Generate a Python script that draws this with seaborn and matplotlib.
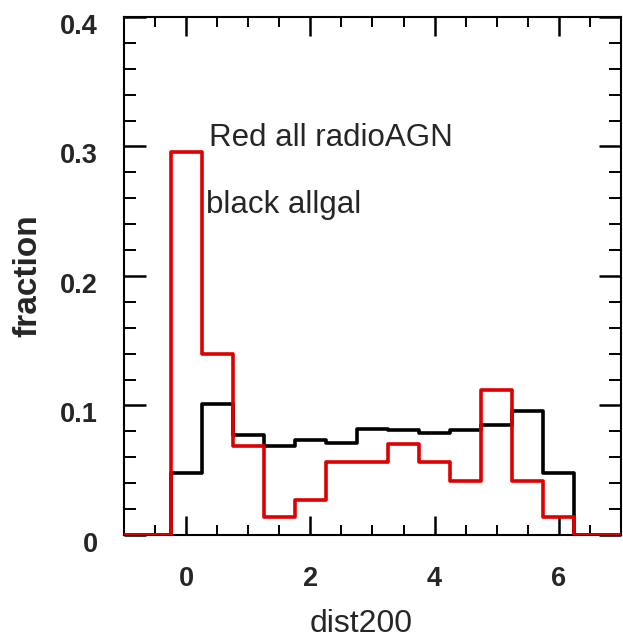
import numpy as np
import pandas as pd
import seaborn as sns
import matplotlib
matplotlib.use("Agg")
import matplotlib.pyplot as plt
from matplotlib.ticker import MultipleLocator, FixedLocator, FixedFormatter
from matplotlib.transforms import ScaledTranslation

# dist200 bin centres (bin width 0.5)
bin_centers = [-1.0, -0.5, 0.0, 0.5, 1.0, 1.5, 2.0, 2.5, 3.0, 3.5, 4.0,
               4.5, 5.0, 5.5, 6.0, 6.5, 7.0]
# fraction per bin: all galaxies
frac_allgal = [0.0, 0.0, 0.048, 0.101, 0.077, 0.069, 0.073, 0.071, 0.082,
               0.081, 0.079, 0.081, 0.085, 0.096, 0.048, 0.0, 0.0]
# fraction per bin: all radio AGN
frac_radioagn = [0.0, 0.0, 0.296, 0.140, 0.069, 0.014, 0.027, 0.056, 0.056,
                 0.070, 0.056, 0.042, 0.112, 0.042, 0.014, 0.0, 0.0]

x_ticks = [0, 2, 4, 6]
x_ticklabels = ["0", "2", "4", "6"]
y_ticks = [0.0, 0.1, 0.2, 0.3, 0.4]
y_ticklabels = ["0", "0.1", "0.2", "0.3", "0.4"]

bin_width = 0.5
edges = [c - bin_width / 2 for c in bin_centers] + [bin_centers[-1] + bin_width / 2]

df = pd.concat([
    pd.DataFrame({"dist200": bin_centers, "fraction": frac_allgal, "sample": "allgal"}),
    pd.DataFrame({"dist200": bin_centers, "fraction": frac_radioagn, "sample": "radioAGN"}),
], ignore_index=True)

sns.set_style("ticks")
plt.rcParams["font.family"] = ["Liberation Sans", "DejaVu Sans"]

fig = plt.figure(figsize=(6.23, 6.39), dpi=100)
ax = fig.add_axes([0.199, 0.1628, 0.7978, 0.8106])

# histogram outlines drawn above the frame so the zero level shows in red
sns.histplot(data=df[df["sample"] == "allgal"], x="dist200", weights="fraction",
             bins=edges, element="step", fill=False, color="black",
             linewidth=2.6, zorder=3, ax=ax)
sns.histplot(data=df[df["sample"] == "radioAGN"], x="dist200", weights="fraction",
             bins=edges, element="step", fill=False, color="#dd0000",
             linewidth=2.6, zorder=3.1, ax=ax)

ax.set_xlim(-1, 7)
ax.set_ylim(0, 0.4)

ax.xaxis.set_major_locator(FixedLocator(x_ticks))
ax.xaxis.set_major_formatter(FixedFormatter(x_ticklabels))
ax.xaxis.set_minor_locator(MultipleLocator(0.5))
ax.yaxis.set_major_locator(FixedLocator(y_ticks))
ax.yaxis.set_major_formatter(FixedFormatter(y_ticklabels))
ax.yaxis.set_minor_locator(MultipleLocator(0.02))

ax.tick_params(which="both", direction="in", top=True, right=True, color="black")
ax.tick_params(axis="x", which="major", length=14, width=1.8, pad=22,
               labelsize=19.5)
ax.tick_params(axis="x", which="minor", length=7, width=1.4)
ax.tick_params(axis="y", which="major", length=15.5, width=1.8, pad=19,
               labelsize=19.5)
ax.tick_params(axis="y", which="minor", length=8.5, width=1.4)

for lab in ax.get_xticklabels() + ax.get_yticklabels():
    lab.set_fontweight("bold")
# y tick labels sit a little below their ticks
shift = ScaledTranslation(0, -7 / 100, fig.dpi_scale_trans)
for lab in ax.get_yticklabels():
    lab.set_transform(lab.get_transform() + shift)

for side in ["top", "bottom", "left", "right"]:
    ax.spines[side].set_linewidth(1.5)
    ax.spines[side].set_color("black")

ax.set_xlabel("dist200", fontsize=23)
ax.set_ylabel("fraction", fontsize=24, fontweight="bold")
ax.xaxis.set_label_coords(0.478, -0.143)
ax.yaxis.set_label_coords(-0.162, 0.5)

ax.text(0.37, 0.3, "Red all radioAGN", fontsize=22.5, ha="left", va="baseline")
ax.text(0.32, 0.249, "black allgal", fontsize=22.5, ha="left", va="baseline")

fig.savefig("out.png", dpi=100, facecolor="white")
